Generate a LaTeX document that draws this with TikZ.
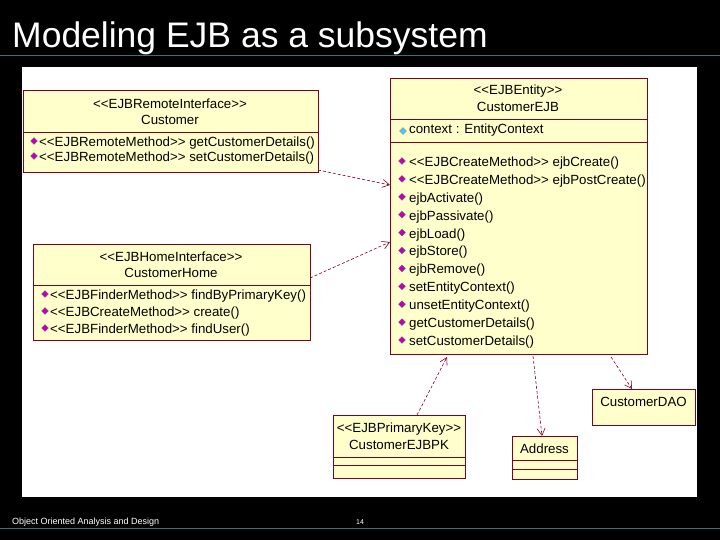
\documentclass[tikz,border=0pt]{standalone}
\usepackage{fontspec}
\setmainfont{Liberation Sans}[Ligatures=TeXOff]
\usetikzlibrary{arrows.meta,shapes.geometric}
\definecolor{umlfill}{RGB}{255,255,204}
\definecolor{umlline}{RGB}{128,0,32}
\definecolor{opcolor}{RGB}{190,0,190}
\definecolor{rulecolor}{RGB}{60,110,120}

\begin{document}
\begin{tikzpicture}
[x=1pt,y=-1pt,>={Straight Barb[length=7pt,width=8pt]},
box/.style={draw=umlline,fill=umlfill,line width=0.8pt},
txt/.style={font=\fontsize{13.3}{16.5}\selectfont,inner sep=0pt,anchor=west},
op/.style={fill=opcolor,draw=black!60,line width=0.2pt,inner sep=0pt,minimum size=7pt,diamond},
dep/.style={->,umlline,dash pattern=on 3pt off 2pt,line width=0.6pt},]

%Background and frame
\fill[black] (0,0) rectangle (720,540);
\useasboundingbox (0,0) rectangle (720,540);
\node[anchor=base west,white,font=\fontsize{35.5}{38}\selectfont,inner sep=0pt] (title) at (12,48) {Modeling EJB as a subsystem};
\draw[rulecolor] (0,55) -- (720,55);
\draw[rulecolor] (0,528) -- (720,528);
\fill[white] (22,67) rectangle (697,497);

%Customer remote interface
\draw[box] (23,90) rectangle (318,172);
\draw[umlline,line width=0.8pt] (23,132) -- (318,132);
\node[txt,anchor=center,align=center] (cust) at (170,112) {<<EJBRemoteInterface>>\\Customer};
\foreach \y/\t in {143/getCustomerDetails(),158/setCustomerDetails()}{
  \node[op] at (34,\y-2) {};
  \node[txt] at (39,\y) {<<EJBRemoteMethod>> \t};
}
\coordinate (custout) at (318,170);

%Customer home interface
\draw[box] (33,244) rectangle (310,340);
\draw[umlline,line width=0.8pt] (33,285) -- (310,285);
\node[txt,anchor=center,align=center] (home) at (171,265) {<<EJBHomeInterface>>\\CustomerHome};
\foreach \y/\t in {296/<<EJBFinderMethod>> findByPrimaryKey(),313/<<EJBCreateMethod>> create(),330/<<EJBFinderMethod>> findUser()}{
  \node[op] at (45,\y-2) {};
  \node[txt] at (50,\y) {\t};
}
\coordinate (homeout) at (310,278);

%Entity bean
\draw[box] (390,78) rectangle (647,354);
\draw[umlline,line width=0.8pt] (390,119) -- (647,119);
\draw[umlline,line width=0.8pt] (390,142) -- (647,142);
\node[txt,anchor=center,align=center] (ejb) at (518,98) {<<EJBEntity>>\\CustomerEJB};
\node[op,fill=cyan!70] at (403,131) {};
\node[txt] at (409,130) {context : EntityContext};
\foreach \t [count=\i from 0] in {<<EJBCreateMethod>> ejbCreate(),<<EJBCreateMethod>> ejbPostCreate(),ejbActivate(),ejbPassivate(),ejbLoad(),ejbStore(),ejbRemove(),setEntityContext(),unsetEntityContext(),getCustomerDetails(),setCustomerDetails()}{
  \node[op] at (402,163+17.9*\i-2) {};
  \node[txt] at (409,163+17.9*\i) {\t};
}
\coordinate (ejbin1) at (390,185);
\coordinate (ejbin2) at (390,242);
\coordinate (ejbin3) at (447,357);
\coordinate (ejbout1) at (533,356);
\coordinate (ejbout2) at (611,357);

%Primary key, address, DAO
\draw[box] (333,415) rectangle (465,478);
\draw[umlline,line width=0.8pt] (333,457) -- (465,457) (333,465) -- (465,465);
\node[txt,anchor=center,align=center] (pk) at (399,436) {<<EJBPrimaryKey>>\\CustomerEJBPK};
\coordinate (pkout) at (417,415);

\draw[box] (512,436) rectangle (577,479);
\draw[umlline,line width=0.8pt] (512,460) -- (577,460) (512,469) -- (577,469);
\node[txt,anchor=center] (addr) at (544.5,449) {Address};
\coordinate (addrin) at (542,436);

\draw[box] (592,389) rectangle (695,425);
\node[txt,anchor=center] (dao) at (643.5,402) {CustomerDAO};
\coordinate (daoin) at (632,389);

%Dependencies
\draw[dep] (custout) -- (ejbin1);
\draw[dep] (homeout) -- (ejbin2);
\draw[dep] (pkout) -- (ejbin3);
\draw[dep] (ejbout1) -- (addrin);
\draw[dep] (ejbout2) -- (daoin);

%Footer
\node[anchor=base west,white,font=\fontsize{9}{10}\selectfont,inner sep=0pt] (foot) at (12,524) {Object Oriented Analysis and Design};
\node[anchor=base west,white,font=\fontsize{7}{8}\selectfont,inner sep=0pt] (page) at (356,524) {14};
\end{tikzpicture}
\end{document}
